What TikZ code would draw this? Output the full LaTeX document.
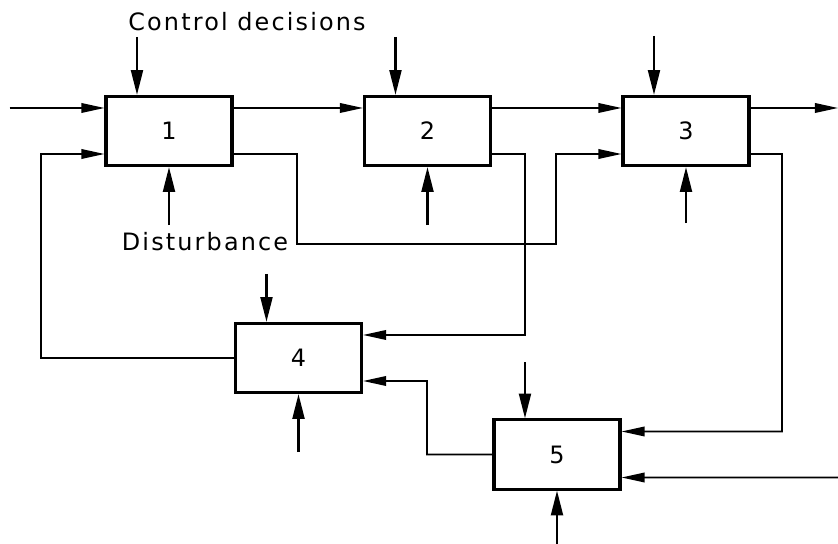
\documentclass[tikz,border=0pt]{standalone}
\usepackage{fontspec}
\setmainfont{DejaVu Sans}[LetterSpace=9]
\usetikzlibrary{arrows.meta}

\begin{document}
\begin{tikzpicture}[x=0.025cm,y=0.025cm,>={Triangle[length=5.75mm,width=2.4mm]},
    font=\fontsize{17}{20}\selectfont, line join=miter,
    blk/.style={draw,line width=2.2pt,minimum width=3.15cm,minimum height=1.73cm,inner sep=0pt},
    flow/.style={->,line width=1.1pt},
    ctrl/.style={-{Triangle[length=6.2mm,width=3mm]},line width=1.5pt}]
    \def\po{5.75mm} % port offset
    \useasboundingbox (0,0) rectangle (838,544);
    % units
    \node[blk] (b1) at (169,413) {1};
    \node[blk] (b2) at (427.5,413) {2};
    \node[blk] (b3) at (686,413) {3};
    \node[blk] (b4) at (298.5,186) {4};
    \node[blk] (b5) at (557,89.5) {5};
    \node (lbcd) at (247,522) {Control decisions};
    \node (lbdist) at (205,302) {Disturbance};
    \coordinate (feed) at (10,436);
    \coordinate (prod) at (838,436);
    \coordinate (supply) at (838,66.5);
    % main line
    \draw[flow] (feed) -- ([yshift=\po]b1.west);
    \draw[flow] ([yshift=\po]b1.east) -- ([yshift=\po]b2.west);
    \draw[flow] ([yshift=\po]b2.east) -- ([yshift=\po]b3.west);
    \draw[flow] ([yshift=\po]b3.east) -- (prod);
    % cross links
    \draw[flow] ([yshift=-\po]b1.east) -| (297,300) -| (556,390) -- ([yshift=-\po]b3.west);
    \draw[flow] ([yshift=-\po]b2.east) -| (525,209) -- ([yshift=\po]b4.east);
    \draw[flow] ([yshift=-\po]b3.east) -| (782,112.5) -- ([yshift=\po]b5.east);
    \draw[flow] (supply) -- ([yshift=-\po]b5.east);
    \draw[flow] (b5.west) -| (427,163) -- ([yshift=-\po]b4.east);
    \draw[flow] (b4.west) -| (41,390) -- ([yshift=-\po]b1.west);
    % decisions and disturbances
    \foreach \b/\t/\d in {b1/14.5mm/14.5mm, b2/14.5mm/14.5mm, b3/14.75mm/14mm, b4/12mm/14.5mm, b5/14mm/13.3mm}{
        \draw[ctrl] ([xshift=-8mm,yshift=\t]\b.north) -- ([xshift=-8mm]\b.north);
        \draw[ctrl] ([yshift=-\d]\b.south) -- (\b.south);
    }
\end{tikzpicture}
\end{document}
